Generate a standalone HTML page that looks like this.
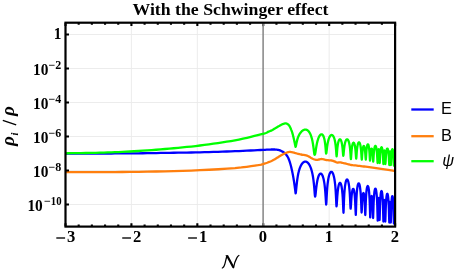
<!DOCTYPE html>
<html><head><meta charset="utf-8"><title>With the Schwinger effect</title>
<style>html,body{margin:0;padding:0;background:#fff;overflow:hidden;}svg{display:block;will-change:transform;}text{font-family:"Liberation Serif",serif;font-weight:bold;fill:#000;}</style></head><body>
<svg width="460" height="273" viewBox="0 0 460 273">
<path d="M131.42 22.7 V226.6 M197.34 22.7 V226.6 M329.18 22.7 V226.6 M65.5 34.50 H395.1 M65.5 68.50 H395.1 M65.5 102.50 H395.1 M65.5 136.50 H395.1 M65.5 170.50 H395.1 M65.5 204.50 H395.1" stroke="#eaeaea" stroke-width="0.9" fill="none"/>
<path d="M263.11 22.7 V226.6" stroke="#8c8c8c" stroke-width="1.6" fill="none"/>
<clipPath id="cp"><rect x="65.5" y="22.7" width="329.6" height="203.9"/></clipPath><g clip-path="url(#cp)">
<path d="M65.50 153.60 L68.19 153.59 L71.80 153.58 L76.11 153.57 L80.88 153.56 L85.88 153.54 L90.88 153.53 L95.67 153.51 L100.00 153.50 L103.93 153.49 L107.70 153.48 L111.36 153.48 L114.97 153.47 L118.58 153.47 L122.25 153.45 L126.04 153.43 L130.00 153.40 L134.14 153.36 L138.40 153.31 L142.76 153.25 L147.19 153.18 L151.66 153.11 L156.13 153.04 L160.59 152.97 L165.00 152.90 L169.38 152.83 L173.75 152.77 L178.12 152.70 L182.50 152.64 L186.88 152.57 L191.25 152.49 L195.62 152.40 L200.00 152.30 L204.42 152.19 L208.91 152.06 L213.43 151.93 L217.94 151.79 L222.39 151.65 L226.74 151.50 L230.96 151.35 L235.00 151.20 L238.96 151.04 L242.94 150.87 L246.85 150.69 L250.62 150.51 L254.20 150.33 L257.50 150.17 L260.46 150.02 L263.00 149.90 L265.06 149.80 L266.68 149.72 L267.94 149.66 L268.94 149.61 L269.75 149.57 L270.48 149.54 L271.20 149.52 L272.00 149.50 L272.83 149.49 L273.57 149.49 L274.23 149.50 L274.84 149.52 L275.41 149.55 L275.95 149.59 L276.47 149.64 L277.00 149.70 L277.51 149.77 L277.99 149.86 L278.44 149.95 L278.88 150.06 L279.29 150.17 L279.70 150.30 L280.10 150.44 L280.50 150.60 L280.90 150.77 L281.30 150.96 L281.68 151.16 L282.06 151.37 L282.43 151.59 L282.80 151.82 L283.15 152.06 L283.50 152.30 L283.84 152.54 L284.16 152.77 L284.47 153.01 L284.78 153.26 L285.08 153.52 L285.39 153.81 L285.69 154.14 L286.00 154.50 L286.31 154.89 L286.63 155.30 L286.95 155.74 L287.26 156.20 L287.58 156.70 L287.89 157.25 L288.20 157.84 L288.50 158.50 L288.80 159.22 L289.10 159.99 L289.39 160.82 L289.68 161.69 L289.97 162.60 L290.25 163.54 L290.53 164.51 L290.80 165.50 L291.07 166.53 L291.33 167.61 L291.59 168.73 L291.85 169.88 L292.10 171.04 L292.34 172.20 L292.58 173.36 L292.80 174.50 L293.01 175.62 L293.21 176.73 L293.41 177.84 L293.59 178.95 L293.77 180.07 L293.95 181.19 L294.13 182.34 L294.30 183.50 L294.48 184.75 L294.67 186.12 L294.86 187.55 L295.04 188.96 L295.22 190.31 L295.37 191.52 L295.50 192.54 L295.60 193.30 L295.80 192.74 L296.00 191.22 L296.20 189.24 L296.40 187.15 L296.61 185.14 L296.81 183.28 L297.01 181.57 L297.21 180.02 L297.41 178.60 L297.61 177.31 L297.81 176.12 L298.01 175.03 L298.21 174.02 L298.41 173.09 L298.62 172.23 L298.82 171.42 L299.02 170.67 L299.22 169.97 L299.42 169.32 L299.62 168.70 L299.82 168.13 L300.02 167.59 L300.22 167.08 L300.42 166.60 L300.63 166.16 L300.83 165.74 L301.03 165.34 L301.23 164.97 L301.43 164.63 L301.63 164.31 L301.83 164.01 L302.03 163.72 L302.23 163.46 L302.44 163.22 L302.64 163.00 L302.84 162.79 L303.04 162.61 L303.24 162.44 L303.44 162.28 L303.64 162.14 L303.84 162.02 L304.04 161.92 L304.24 161.83 L304.45 161.75 L304.65 161.69 L304.85 161.65 L305.05 161.62 L305.25 161.60 L305.45 161.60 L305.65 161.62 L305.85 161.65 L306.05 161.69 L306.25 161.75 L306.46 161.83 L306.66 161.92 L306.86 162.02 L307.06 162.14 L307.26 162.28 L307.46 162.44 L307.66 162.61 L307.86 162.80 L308.06 163.00 L308.26 163.22 L308.47 163.47 L308.67 163.73 L308.87 164.01 L309.07 164.31 L309.27 164.64 L309.47 164.98 L309.67 165.35 L309.87 165.75 L310.07 166.17 L310.28 166.62 L310.48 167.10 L310.68 167.61 L310.88 168.15 L311.08 168.73 L311.28 169.35 L311.48 170.02 L311.68 170.72 L311.88 171.49 L312.08 172.30 L312.29 173.18 L312.49 174.13 L312.69 175.17 L312.89 176.29 L313.09 177.51 L313.29 178.86 L313.49 180.35 L313.69 182.00 L313.89 183.85 L314.09 185.92 L314.30 188.24 L314.50 190.78 L314.70 193.41 L314.90 195.64 L315.10 196.60 L315.30 196.20 L315.50 194.88 L315.71 193.07 L315.91 191.12 L316.11 189.22 L316.31 187.45 L316.51 185.83 L316.71 184.37 L316.92 183.05 L317.12 181.86 L317.32 180.78 L317.52 179.82 L317.72 178.94 L317.93 178.16 L318.13 177.45 L318.33 176.82 L318.53 176.25 L318.73 175.75 L318.93 175.30 L319.14 174.92 L319.34 174.58 L319.54 174.30 L319.74 174.07 L319.94 173.88 L320.15 173.74 L320.35 173.65 L320.55 173.61 L320.75 173.61 L320.95 173.65 L321.15 173.74 L321.36 173.88 L321.56 174.07 L321.76 174.30 L321.96 174.59 L322.16 174.93 L322.37 175.32 L322.57 175.77 L322.77 176.28 L322.97 176.86 L323.17 177.51 L323.37 178.24 L323.58 179.06 L323.78 179.97 L323.98 180.99 L324.18 182.13 L324.38 183.42 L324.59 184.87 L324.79 186.52 L324.99 188.42 L325.19 190.61 L325.39 193.17 L325.59 196.16 L325.80 199.54 L326.00 202.84 L326.20 204.50 L326.40 202.32 L326.60 198.15 L326.81 194.23 L327.01 190.94 L327.21 188.21 L327.41 185.92 L327.61 183.96 L327.82 182.28 L328.02 180.81 L328.22 179.52 L328.42 178.38 L328.62 177.37 L328.83 176.48 L329.03 175.69 L329.23 174.99 L329.43 174.38 L329.63 173.84 L329.84 173.37 L330.04 172.97 L330.24 172.63 L330.44 172.35 L330.64 172.13 L330.85 171.97 L331.05 171.86 L331.25 171.81 L331.45 171.81 L331.65 171.86 L331.85 171.97 L332.06 172.13 L332.26 172.35 L332.46 172.63 L332.66 172.97 L332.86 173.37 L333.07 173.84 L333.27 174.38 L333.47 175.00 L333.67 175.70 L333.87 176.49 L334.08 177.38 L334.28 178.40 L334.48 179.54 L334.68 180.84 L334.88 182.32 L335.09 184.02 L335.29 186.00 L335.49 188.34 L335.69 191.14 L335.89 194.57 L336.10 198.80 L336.30 203.61 L336.50 206.40 L336.70 205.19 L336.90 202.27 L337.10 199.10 L337.30 196.25 L337.50 193.82 L337.70 191.75 L337.90 190.00 L338.10 188.52 L338.30 187.26 L338.50 186.20 L338.70 185.30 L338.90 184.56 L339.10 183.97 L339.30 183.50 L339.50 183.15 L339.70 182.93 L339.90 182.81 L340.10 182.81 L340.30 182.93 L340.50 183.16 L340.70 183.50 L340.90 183.97 L341.10 184.58 L341.30 185.33 L341.50 186.24 L341.70 187.33 L341.90 188.62 L342.10 190.17 L342.30 192.02 L342.50 194.25 L342.70 196.97 L342.90 200.37 L343.10 204.65 L343.30 209.67 L343.50 212.80 L343.70 208.40 L343.91 202.30 L344.11 197.58 L344.31 193.98 L344.51 191.15 L344.72 188.85 L344.92 186.97 L345.12 185.39 L345.33 184.08 L345.53 182.97 L345.73 182.05 L345.93 181.30 L346.14 180.69 L346.34 180.21 L346.54 179.86 L346.75 179.63 L346.95 179.51 L347.15 179.51 L347.35 179.63 L347.56 179.86 L347.76 180.21 L347.96 180.68 L348.17 181.29 L348.37 182.05 L348.57 182.96 L348.77 184.05 L348.98 185.36 L349.18 186.91 L349.38 188.76 L349.59 190.99 L349.79 193.72 L349.99 197.09 L350.19 201.28 L350.40 206.04 L350.60 208.70 L350.81 207.37 L351.02 204.21 L351.22 200.92 L351.43 198.08 L351.64 195.73 L351.85 193.83 L352.06 192.30 L352.26 191.09 L352.47 190.16 L352.68 189.49 L352.89 189.04 L353.10 188.83 L353.30 188.83 L353.51 189.05 L353.72 189.49 L353.93 190.18 L354.14 191.12 L354.34 192.37 L354.55 193.97 L354.76 196.00 L354.97 198.58 L355.18 201.90 L355.38 206.19 L355.59 211.44 L355.80 214.90 L356.00 210.07 L356.20 203.69 L356.40 198.90 L356.60 195.32 L356.80 192.54 L357.00 190.33 L357.20 188.56 L357.40 187.12 L357.60 185.96 L357.80 185.05 L358.00 184.34 L358.20 183.82 L358.40 183.49 L358.60 183.32 L358.80 183.32 L359.00 183.49 L359.20 183.82 L359.40 184.34 L359.60 185.04 L359.80 185.96 L360.00 187.11 L360.20 188.54 L360.40 190.30 L360.60 192.48 L360.80 195.21 L361.00 198.69 L361.20 203.21 L361.40 208.84 L361.60 212.50 L361.81 210.04 L362.01 205.57 L362.22 201.71 L362.42 198.74 L362.63 196.52 L362.83 194.92 L363.04 193.84 L363.24 193.21 L363.45 193.00 L363.66 193.21 L363.86 193.84 L364.07 194.94 L364.27 196.56 L364.48 198.84 L364.68 201.94 L364.89 206.15 L365.09 211.46 L365.30 215.00 L365.50 210.23 L365.71 203.84 L365.91 199.09 L366.12 195.58 L366.32 192.91 L366.52 190.85 L366.73 189.25 L366.93 188.02 L367.14 187.12 L367.34 186.49 L367.55 186.12 L367.75 186.00 L367.95 186.12 L368.16 186.49 L368.36 187.12 L368.57 188.03 L368.77 189.26 L368.98 190.87 L369.18 192.95 L369.38 195.65 L369.59 199.23 L369.79 204.18 L370.00 211.24 L370.20 217.40 L370.41 212.70 L370.61 206.57 L370.82 202.23 L371.03 199.30 L371.24 197.41 L371.44 196.35 L371.65 196.00 L371.86 196.35 L372.06 197.41 L372.27 199.31 L372.48 202.25 L372.69 206.64 L372.89 212.95 L373.10 218.00 L373.31 212.38 L373.52 205.53 L373.73 200.66 L373.94 197.15 L374.15 194.52 L374.35 192.53 L374.56 191.03 L374.77 189.94 L374.98 189.18 L375.19 188.74 L375.40 188.60 L375.61 188.74 L375.82 189.18 L376.03 189.94 L376.24 191.04 L376.45 192.54 L376.65 194.55 L376.86 197.20 L377.07 200.78 L377.28 205.82 L377.49 213.32 L377.70 220.60 L377.84 215.22 L377.97 208.74 L378.11 204.29 L378.24 201.33 L378.38 199.42 L378.51 198.35 L378.65 198.00 L378.79 198.35 L378.92 199.42 L379.06 201.32 L379.19 204.27 L379.33 208.67 L379.46 214.99 L379.60 220.00 L379.81 212.92 L380.02 205.50 L380.23 200.58 L380.44 197.16 L380.66 194.73 L380.87 193.02 L381.08 191.88 L381.29 191.22 L381.50 191.00 L381.71 191.22 L381.92 191.88 L382.13 193.02 L382.34 194.74 L382.56 197.18 L382.77 200.62 L382.98 205.62 L383.19 213.37 L383.40 221.50 L383.54 216.73 L383.67 210.57 L383.81 206.23 L383.94 203.30 L384.08 201.41 L384.21 200.35 L384.35 200.00 L384.49 200.35 L384.62 201.41 L384.76 203.30 L384.89 206.23 L385.03 210.57 L385.16 216.73 L385.30 221.50 L385.50 216.05 L385.70 209.34 L385.90 204.57 L386.10 201.14 L386.30 198.62 L386.50 196.76 L386.70 195.42 L386.90 194.50 L387.10 193.97 L387.30 193.80 L387.50 193.97 L387.70 194.50 L387.90 195.42 L388.10 196.76 L388.30 198.63 L388.50 201.16 L388.70 204.62 L388.90 209.47 L389.10 216.45 L389.30 222.50 L389.41 218.22 L389.51 212.38 L389.62 208.15 L389.73 205.27 L389.84 203.40 L389.94 202.34 L390.05 202.00 L390.16 202.34 L390.26 203.40 L390.37 205.27 L390.48 208.15 L390.59 212.38 L390.69 218.22 L390.80 222.50 L391.01 215.39 L391.21 208.06 L391.42 203.29 L391.63 200.12 L391.83 198.00 L392.04 196.70 L392.25 196.08 L392.45 196.08 L392.66 196.70 L392.87 198.01 L393.07 200.12 L393.28 203.32 L393.49 208.13 L393.69 215.69 L393.90 223.50 L393.99 221.39 L394.09 217.37 L394.18 213.67 L394.27 210.68 L394.36 208.33 L394.46 206.52 L394.55 205.14 L394.64 204.13 L394.74 203.46 L394.83 203.09 L394.92 203.01 L395.01 203.22 L395.11 203.73 L395.20 204.56" fill="none" stroke="#0000ff" stroke-width="2.3" stroke-linejoin="round" stroke-linecap="butt"/>
<path d="M65.50 172.20 L71.80 172.18 L80.88 172.16 L90.88 172.13 L100.00 172.10 L107.70 172.07 L114.97 172.03 L122.25 171.98 L130.00 171.90 L138.40 171.79 L147.19 171.66 L156.13 171.49 L165.00 171.30 L173.75 171.08 L182.50 170.84 L191.25 170.56 L200.00 170.20 L209.10 169.75 L218.44 169.24 L227.30 168.68 L235.00 168.10 L241.34 167.48 L246.69 166.81 L251.20 166.16 L255.00 165.60 L257.84 165.19 L259.75 164.87 L261.28 164.55 L263.00 164.10 L265.07 163.47 L267.19 162.72 L269.21 161.94 L271.00 161.20 L272.48 160.51 L273.75 159.82 L274.89 159.16 L276.00 158.50 L277.09 157.84 L278.12 157.19 L279.09 156.56 L280.00 156.00 L280.84 155.50 L281.61 155.06 L282.33 154.66 L283.00 154.30 L283.60 153.98 L284.14 153.70 L284.66 153.45 L285.20 153.20 L285.77 152.95 L286.34 152.71 L286.92 152.49 L287.50 152.30 L288.07 152.15 L288.62 152.02 L289.20 151.93 L289.80 151.90 L290.44 151.93 L291.10 152.02 L291.79 152.15 L292.50 152.30 L293.20 152.48 L293.89 152.69 L294.66 152.94 L295.60 153.20 L296.77 153.51 L298.12 153.85 L299.53 154.19 L300.90 154.50 L302.26 154.75 L303.65 154.96 L304.96 155.16 L306.10 155.40 L307.00 155.67 L307.73 155.97 L308.37 156.28 L309.00 156.60 L309.61 156.94 L310.16 157.29 L310.71 157.65 L311.30 158.00 L311.95 158.35 L312.64 158.70 L313.33 159.03 L314.00 159.30 L314.64 159.52 L315.26 159.71 L315.88 159.84 L316.50 159.90 L317.12 159.87 L317.74 159.77 L318.36 159.63 L319.00 159.50 L319.67 159.36 L320.36 159.20 L321.05 159.06 L321.70 159.00 L322.32 159.03 L322.92 159.14 L323.48 159.27 L324.00 159.40 L324.41 159.52 L324.73 159.65 L325.09 159.78 L325.60 159.90 L326.33 160.01 L327.20 160.11 L328.12 160.21 L329.00 160.30 L329.82 160.37 L330.64 160.41 L331.43 160.48 L332.20 160.60 L332.94 160.80 L333.65 161.06 L334.34 161.33 L335.00 161.60 L335.62 161.88 L336.21 162.18 L336.80 162.44 L337.40 162.60 L338.03 162.59 L338.66 162.47 L339.32 162.34 L340.00 162.30 L340.72 162.40 L341.48 162.59 L342.24 162.80 L343.00 163.00 L343.69 163.16 L344.35 163.31 L345.08 163.48 L346.00 163.70 L347.18 164.00 L348.54 164.36 L349.99 164.71 L351.40 165.00 L352.77 165.20 L354.14 165.34 L355.52 165.46 L356.90 165.60 L358.24 165.77 L359.57 165.94 L360.93 166.12 L362.40 166.30 L364.01 166.49 L365.71 166.68 L367.46 166.88 L369.20 167.10 L370.92 167.33 L372.65 167.58 L374.38 167.84 L376.10 168.10 L377.80 168.37 L379.50 168.66 L381.20 168.94 L382.90 169.20 L384.66 169.44 L386.45 169.66 L388.19 169.88 L389.80 170.10 L391.34 170.35 L392.83 170.61 L394.11 170.84 L395.00 171.00" fill="none" stroke="#ff7f0e" stroke-width="2.3" stroke-linejoin="round" stroke-linecap="butt"/>
<path d="M65.50 153.30 L68.19 153.26 L71.80 153.21 L76.11 153.15 L80.88 153.07 L85.88 153.00 L90.88 152.91 L95.67 152.81 L100.00 152.70 L103.93 152.59 L107.70 152.47 L111.36 152.35 L114.97 152.22 L118.58 152.07 L122.25 151.91 L126.04 151.72 L130.00 151.50 L134.14 151.26 L138.40 150.99 L142.76 150.70 L147.19 150.39 L151.66 150.07 L156.13 149.73 L160.59 149.37 L165.00 149.00 L169.38 148.62 L173.75 148.24 L178.12 147.84 L182.50 147.42 L186.88 146.98 L191.25 146.52 L195.62 146.03 L200.00 145.50 L204.42 144.94 L208.91 144.35 L213.43 143.73 L217.94 143.09 L222.39 142.42 L226.74 141.73 L230.96 141.02 L235.00 140.30 L238.99 139.52 L243.03 138.66 L247.02 137.76 L250.88 136.84 L254.49 135.96 L257.78 135.13 L260.65 134.40 L263.00 133.80 L264.73 133.34 L265.89 133.00 L266.60 132.74 L267.00 132.55 L267.21 132.40 L267.36 132.25 L267.58 132.10 L268.00 131.90 L268.55 131.68 L269.09 131.46 L269.62 131.25 L270.12 131.04 L270.62 130.84 L271.09 130.63 L271.55 130.42 L272.00 130.20 L272.43 129.98 L272.84 129.74 L273.24 129.51 L273.62 129.27 L273.98 129.04 L274.34 128.81 L274.67 128.60 L275.00 128.40 L275.30 128.22 L275.57 128.07 L275.82 127.93 L276.06 127.79 L276.29 127.66 L276.54 127.52 L276.81 127.37 L277.10 127.20 L277.43 127.01 L277.78 126.80 L278.16 126.58 L278.54 126.35 L278.92 126.12 L279.30 125.90 L279.66 125.69 L280.00 125.50 L280.32 125.32 L280.62 125.15 L280.92 124.99 L281.21 124.84 L281.49 124.69 L281.76 124.55 L282.03 124.42 L282.30 124.30 L282.57 124.19 L282.83 124.08 L283.09 123.98 L283.35 123.89 L283.60 123.80 L283.84 123.73 L284.08 123.66 L284.30 123.60 L284.51 123.55 L284.71 123.50 L284.90 123.46 L285.08 123.42 L285.26 123.40 L285.44 123.39 L285.62 123.39 L285.80 123.40 L285.99 123.42 L286.18 123.46 L286.37 123.51 L286.56 123.57 L286.74 123.64 L286.93 123.72 L287.12 123.80 L287.30 123.90 L287.48 124.00 L287.66 124.11 L287.84 124.23 L288.01 124.36 L288.19 124.50 L288.36 124.65 L288.53 124.82 L288.70 125.00 L288.87 125.20 L289.03 125.42 L289.20 125.65 L289.36 125.90 L289.52 126.16 L289.68 126.43 L289.84 126.71 L290.00 127.00 L290.16 127.30 L290.31 127.62 L290.46 127.94 L290.61 128.28 L290.76 128.63 L290.91 128.98 L291.06 129.34 L291.20 129.70 L291.34 130.07 L291.49 130.44 L291.63 130.82 L291.77 131.21 L291.91 131.60 L292.04 131.99 L292.17 132.40 L292.30 132.80 L292.42 133.20 L292.53 133.60 L292.64 133.99 L292.75 134.39 L292.86 134.81 L292.97 135.24 L293.08 135.71 L293.20 136.20 L293.33 136.73 L293.46 137.28 L293.59 137.85 L293.73 138.45 L293.87 139.07 L294.01 139.70 L294.16 140.34 L294.30 141.00 L294.45 141.72 L294.62 142.52 L294.80 143.36 L294.97 144.20 L295.13 145.01 L295.28 145.73 L295.41 146.35 L295.50 146.80 L295.70 146.64 L295.90 145.99 L296.10 145.05 L296.30 144.02 L296.51 143.01 L296.71 142.05 L296.91 141.17 L297.11 140.36 L297.31 139.62 L297.51 138.93 L297.71 138.30 L297.91 137.71 L298.11 137.16 L298.31 136.65 L298.52 136.18 L298.72 135.73 L298.92 135.31 L299.12 134.91 L299.32 134.53 L299.52 134.18 L299.72 133.84 L299.92 133.52 L300.12 133.22 L300.33 132.94 L300.53 132.66 L300.73 132.41 L300.93 132.16 L301.13 131.93 L301.33 131.71 L301.53 131.50 L301.73 131.31 L301.93 131.13 L302.13 130.95 L302.34 130.79 L302.54 130.64 L302.74 130.50 L302.94 130.37 L303.14 130.25 L303.34 130.14 L303.54 130.04 L303.74 129.95 L303.94 129.87 L304.15 129.80 L304.35 129.74 L304.55 129.69 L304.75 129.65 L304.95 129.62 L305.15 129.61 L305.35 129.60 L305.55 129.61 L305.75 129.62 L305.95 129.65 L306.16 129.69 L306.36 129.74 L306.56 129.81 L306.76 129.89 L306.96 129.98 L307.16 130.08 L307.36 130.20 L307.56 130.34 L307.76 130.49 L307.97 130.65 L308.17 130.83 L308.37 131.03 L308.57 131.25 L308.77 131.48 L308.97 131.74 L309.17 132.02 L309.37 132.32 L309.57 132.64 L309.77 132.99 L309.98 133.36 L310.18 133.76 L310.38 134.19 L310.58 134.66 L310.78 135.16 L310.98 135.70 L311.18 136.27 L311.38 136.90 L311.58 137.57 L311.79 138.30 L311.99 139.08 L312.19 139.93 L312.39 140.86 L312.59 141.87 L312.79 142.96 L312.99 144.16 L313.19 145.47 L313.39 146.90 L313.59 148.43 L313.80 150.06 L314.00 151.70 L314.20 153.21 L314.40 154.34 L314.60 154.80 L314.80 154.71 L315.00 154.34 L315.21 153.58 L315.41 152.50 L315.61 151.23 L315.81 149.89 L316.01 148.57 L316.21 147.31 L316.42 146.13 L316.62 145.03 L316.82 144.01 L317.02 143.06 L317.22 142.19 L317.42 141.38 L317.63 140.64 L317.83 139.95 L318.03 139.31 L318.23 138.71 L318.43 138.17 L318.64 137.66 L318.84 137.20 L319.04 136.77 L319.24 136.38 L319.44 136.03 L319.64 135.71 L319.85 135.42 L320.05 135.17 L320.25 134.94 L320.45 134.76 L320.65 134.60 L320.85 134.47 L321.06 134.38 L321.26 134.32 L321.46 134.30 L321.66 134.31 L321.86 134.36 L322.06 134.44 L322.27 134.57 L322.47 134.73 L322.67 134.94 L322.87 135.20 L323.07 135.50 L323.28 135.86 L323.48 136.29 L323.68 136.78 L323.88 137.34 L324.08 137.99 L324.28 138.75 L324.49 139.62 L324.69 140.63 L324.89 141.82 L325.09 143.24 L325.29 144.93 L325.49 147.00 L325.70 149.49 L325.90 152.17 L326.10 153.60 L326.30 153.21 L326.50 151.95 L326.71 150.27 L326.91 148.55 L327.11 146.95 L327.31 145.52 L327.51 144.24 L327.72 143.11 L327.92 142.11 L328.12 141.20 L328.32 140.40 L328.52 139.67 L328.73 139.02 L328.93 138.43 L329.13 137.91 L329.33 137.43 L329.53 137.01 L329.73 136.63 L329.94 136.30 L330.14 136.01 L330.34 135.75 L330.54 135.54 L330.74 135.36 L330.95 135.22 L331.15 135.11 L331.35 135.04 L331.55 135.01 L331.75 135.00 L331.96 135.04 L332.16 135.11 L332.36 135.21 L332.56 135.35 L332.76 135.54 L332.97 135.76 L333.17 136.03 L333.37 136.34 L333.57 136.71 L333.77 137.13 L333.98 137.61 L334.18 138.15 L334.38 138.77 L334.58 139.48 L334.78 140.28 L334.98 141.20 L335.19 142.27 L335.39 143.52 L335.59 144.99 L335.79 146.76 L335.99 148.93 L336.20 151.60 L336.40 154.63 L336.60 156.40 L336.80 154.95 L337.01 152.26 L337.21 149.77 L337.41 147.72 L337.62 146.04 L337.82 144.67 L338.02 143.53 L338.22 142.57 L338.43 141.78 L338.63 141.12 L338.83 140.58 L339.04 140.14 L339.24 139.80 L339.44 139.55 L339.65 139.39 L339.85 139.31 L340.05 139.31 L340.25 139.39 L340.46 139.55 L340.66 139.80 L340.86 140.14 L341.07 140.58 L341.27 141.12 L341.47 141.77 L341.68 142.57 L341.88 143.51 L342.08 144.65 L342.28 146.01 L342.49 147.65 L342.69 149.66 L342.89 152.04 L343.10 154.53 L343.30 155.80 L343.51 154.82 L343.71 152.66 L343.92 150.45 L344.12 148.52 L344.33 146.90 L344.53 145.53 L344.74 144.38 L344.94 143.40 L345.15 142.56 L345.35 141.85 L345.56 141.24 L345.76 140.73 L345.97 140.31 L346.18 139.97 L346.38 139.70 L346.59 139.50 L346.79 139.37 L347.00 139.31 L347.20 139.31 L347.41 139.37 L347.61 139.50 L347.82 139.70 L348.02 139.97 L348.23 140.32 L348.44 140.74 L348.64 141.26 L348.85 141.87 L349.05 142.59 L349.26 143.45 L349.46 144.46 L349.67 145.66 L349.87 147.11 L350.08 148.88 L350.28 151.07 L350.49 153.85 L350.69 157.14 L350.90 159.20 L351.10 157.27 L351.31 154.09 L351.51 151.39 L351.72 149.28 L351.92 147.62 L352.12 146.30 L352.33 145.25 L352.53 144.42 L352.73 143.78 L352.94 143.30 L353.14 142.96 L353.35 142.77 L353.55 142.70 L353.75 142.77 L353.96 142.96 L354.16 143.30 L354.37 143.78 L354.57 144.42 L354.77 145.25 L354.98 146.29 L355.18 147.60 L355.38 149.24 L355.59 151.33 L355.79 153.95 L356.00 156.97 L356.20 158.70 L356.40 157.06 L356.60 154.12 L356.80 151.53 L357.00 149.44 L357.20 147.78 L357.40 146.44 L357.60 145.35 L357.80 144.48 L358.00 143.78 L358.20 143.23 L358.40 142.81 L358.60 142.53 L358.80 142.36 L359.00 142.30 L359.20 142.36 L359.40 142.53 L359.60 142.82 L359.80 143.23 L360.00 143.78 L360.20 144.48 L360.40 145.37 L360.60 146.46 L360.80 147.82 L361.00 149.51 L361.20 151.66 L361.40 154.40 L361.60 157.68 L361.80 159.70 L362.00 157.92 L362.20 154.90 L362.40 152.34 L362.60 150.36 L362.80 148.85 L363.00 147.72 L363.20 146.90 L363.40 146.34 L363.60 146.01 L363.80 145.90 L364.00 146.01 L364.20 146.34 L364.40 146.90 L364.60 147.72 L364.80 148.85 L365.00 150.36 L365.20 152.34 L365.40 154.90 L365.60 157.92 L365.80 159.70 L366.01 157.35 L366.22 153.78 L366.43 150.97 L366.64 148.89 L366.85 147.33 L367.06 146.16 L367.27 145.32 L367.48 144.74 L367.69 144.41 L367.90 144.30 L368.11 144.41 L368.32 144.74 L368.53 145.32 L368.74 146.17 L368.95 147.34 L369.16 148.92 L369.37 151.05 L369.58 153.96 L369.79 157.84 L370.00 160.70 L370.21 158.65 L370.43 155.39 L370.64 152.82 L370.85 150.98 L371.07 149.72 L371.28 148.93 L371.49 148.55 L371.71 148.55 L371.92 148.93 L372.13 149.73 L372.35 151.00 L372.56 152.88 L372.77 155.57 L372.99 159.15 L373.20 161.70 L373.40 159.53 L373.60 156.10 L373.80 153.32 L374.00 151.21 L374.20 149.60 L374.40 148.36 L374.60 147.43 L374.80 146.74 L375.00 146.27 L375.20 145.99 L375.40 145.90 L375.60 145.99 L375.80 146.27 L376.00 146.74 L376.20 147.43 L376.40 148.38 L376.60 149.62 L376.80 151.26 L377.00 153.43 L377.20 156.35 L377.40 160.21 L377.60 163.00 L377.75 159.87 L377.90 155.88 L378.05 153.09 L378.20 151.22 L378.35 150.00 L378.50 149.32 L378.65 149.10 L378.80 149.32 L378.95 150.00 L379.10 151.22 L379.25 153.09 L379.40 155.88 L379.55 159.87 L379.70 163.00 L379.91 160.04 L380.11 156.06 L380.32 153.14 L380.52 151.05 L380.73 149.54 L380.93 148.47 L381.14 147.75 L381.34 147.34 L381.55 147.20 L381.76 147.34 L381.96 147.75 L382.17 148.48 L382.37 149.55 L382.58 151.08 L382.78 153.20 L382.99 156.20 L383.19 160.46 L383.40 164.00 L383.54 161.07 L383.69 157.21 L383.83 154.46 L383.97 152.60 L384.11 151.40 L384.26 150.72 L384.40 150.50 L384.54 150.72 L384.69 151.40 L384.83 152.60 L384.97 154.46 L385.11 157.21 L385.26 161.07 L385.40 164.00 L385.61 161.41 L385.81 157.67 L386.02 154.81 L386.22 152.72 L386.43 151.19 L386.63 150.07 L386.84 149.28 L387.04 148.78 L387.25 148.53 L387.45 148.53 L387.66 148.78 L387.86 149.28 L388.07 150.07 L388.27 151.20 L388.48 152.75 L388.68 154.88 L388.89 157.83 L389.09 161.87 L389.30 165.00 L389.41 162.07 L389.53 158.21 L389.64 155.46 L389.76 153.60 L389.87 152.40 L389.99 151.72 L390.10 151.50 L390.21 151.72 L390.33 152.40 L390.44 153.60 L390.56 155.46 L390.67 158.21 L390.79 162.07 L390.90 165.00 L391.10 161.10 L391.30 156.68 L391.50 153.71 L391.70 151.71 L391.90 150.37 L392.10 149.55 L392.30 149.15 L392.50 149.15 L392.70 149.55 L392.90 150.37 L393.10 151.71 L393.30 153.73 L393.50 156.74 L393.70 161.31 L393.90 165.60 L393.99 164.12 L394.09 161.38 L394.18 158.92 L394.27 156.97 L394.36 155.45 L394.46 154.27 L394.55 153.38 L394.64 152.73 L394.74 152.29 L394.83 152.06 L394.92 152.00 L395.01 152.14 L395.11 152.47 L395.20 153.00" fill="none" stroke="#00ff00" stroke-width="2.3" stroke-linejoin="round" stroke-linecap="butt"/>
</g>
<rect x="65.5" y="22.7" width="329.6" height="203.9" fill="none" stroke="#000" stroke-width="2.2"/>
<path d="M65.50 226.6 v-3.4 M65.50 22.7 v3.4 M78.68 226.6 v-2.1 M78.68 22.7 v2.1 M91.87 226.6 v-2.1 M91.87 22.7 v2.1 M105.05 226.6 v-2.1 M105.05 22.7 v2.1 M118.24 226.6 v-2.1 M118.24 22.7 v2.1 M131.42 226.6 v-3.4 M131.42 22.7 v3.4 M144.60 226.6 v-2.1 M144.60 22.7 v2.1 M157.79 226.6 v-2.1 M157.79 22.7 v2.1 M170.97 226.6 v-2.1 M170.97 22.7 v2.1 M184.16 226.6 v-2.1 M184.16 22.7 v2.1 M197.34 226.6 v-3.4 M197.34 22.7 v3.4 M210.52 226.6 v-2.1 M210.52 22.7 v2.1 M223.71 226.6 v-2.1 M223.71 22.7 v2.1 M236.89 226.6 v-2.1 M236.89 22.7 v2.1 M250.08 226.6 v-2.1 M250.08 22.7 v2.1 M263.26 226.6 v-3.4 M263.26 22.7 v3.4 M276.44 226.6 v-2.1 M276.44 22.7 v2.1 M289.63 226.6 v-2.1 M289.63 22.7 v2.1 M302.81 226.6 v-2.1 M302.81 22.7 v2.1 M316.00 226.6 v-2.1 M316.00 22.7 v2.1 M329.18 226.6 v-3.4 M329.18 22.7 v3.4 M342.36 226.6 v-2.1 M342.36 22.7 v2.1 M355.55 226.6 v-2.1 M355.55 22.7 v2.1 M368.73 226.6 v-2.1 M368.73 22.7 v2.1 M381.92 226.6 v-2.1 M381.92 22.7 v2.1 M395.10 226.6 v-3.4 M395.10 22.7 v3.4 M65.5 34.50 h3.5 M65.5 68.50 h3.5 M65.5 102.50 h3.5 M65.5 136.50 h3.5 M65.5 170.50 h3.5 M65.5 204.50 h3.5" stroke="#000" stroke-width="2.1" fill="none"/>
<path d="M263.11 23.8 v2.6 M263.11 225.5 v-2.6" stroke="#8c8c8c" stroke-width="1.6" fill="none"/>
<g opacity="0.999">
<path d="M56.30 238.0 h8.8" stroke="#000" stroke-width="1.35" fill="none"/>
<text x="67.10" y="242.2" font-size="16.6">3</text>
<path d="M122.22 238.0 h8.8" stroke="#000" stroke-width="1.35" fill="none"/>
<text x="133.02" y="242.2" font-size="16.6">2</text>
<path d="M188.14 238.0 h8.8" stroke="#000" stroke-width="1.35" fill="none"/>
<text x="198.94" y="242.2" font-size="16.6">1</text>
<text x="262.96" y="242.2" font-size="16.6" text-anchor="middle">0</text>
<text x="328.88" y="242.2" font-size="16.6" text-anchor="middle">1</text>
<text x="394.80" y="242.2" font-size="16.6" text-anchor="middle">2</text>
<text transform="translate(61.5,38.50) scale(0.87,1)" font-size="17.7" text-anchor="end">1</text>
<text x="48.46" y="68.50" font-size="12">−2</text>
<text transform="translate(48.40,74.50) scale(0.87,1)" font-size="17.7" text-anchor="end">10</text>
<text x="48.46" y="102.50" font-size="12">−4</text>
<text transform="translate(48.40,108.50) scale(0.87,1)" font-size="17.7" text-anchor="end">10</text>
<text x="48.46" y="136.50" font-size="12">−6</text>
<text transform="translate(48.40,142.50) scale(0.87,1)" font-size="17.7" text-anchor="end">10</text>
<text x="48.46" y="170.50" font-size="12">−8</text>
<text transform="translate(48.40,176.50) scale(0.87,1)" font-size="17.7" text-anchor="end">10</text>
<text x="44.00" y="204.50" font-size="12">−</text>
<text transform="translate(61.6,204.50) scale(0.9,1)" font-size="12" text-anchor="end">10</text>
<text transform="translate(42.80,210.50) scale(0.87,1)" font-size="17.7" text-anchor="end">10</text>
<text x="230.5" y="15.3" font-size="17.75" text-anchor="middle">With the Schwinger effect</text>
<text transform="translate(13.6,126.2) rotate(-90)" font-size="19" font-style="italic" text-anchor="middle">ρ<tspan dx="0.9" dy="4.2" font-size="10.5">i</tspan><tspan dy="-4.2" dx="0.6" fill="none"> / </tspan><tspan dx="1.0">ρ</tspan></text>
<path d="M2.8 120.4 L16.2 124.9" stroke="#000" stroke-width="1.5" fill="none"/>
<g transform="translate(0.2,0.7)" fill="none" stroke="#000" stroke-linecap="round" stroke-linejoin="round"><path d="M222.1 267.3 C223.3 267.0 224.1 265.4 224.7 263.2 C225.4 260.5 225.9 258.0 226.7 255.3" stroke-width="1.25"/><path d="M227.2 255.6 L233.0 266.4" stroke-width="2.2"/><path d="M233.3 266.9 C234.0 263.5 235.2 259.8 236.6 257.2 C237.2 256.0 237.9 255.2 238.7 254.8" stroke-width="1.25"/><path d="M225.8 255.0 H227.6" stroke-width="0.8"/></g>
<path d="M411.3 109.5 H433.7" stroke="#0000ff" stroke-width="2.3" fill="none"/>
<text transform="translate(441.0,114.3) scale(0.95,1)" font-size="17.2" style="font-family:'Liberation Sans',sans-serif;font-weight:normal">E</text>
<path d="M411.3 136.2 H433.7" stroke="#ff7f0e" stroke-width="2.3" fill="none"/>
<text transform="translate(441.0,141.0) scale(0.95,1)" font-size="17.2" style="font-family:'Liberation Sans',sans-serif;font-weight:normal">B</text>
<path d="M411.3 161.2 H433.7" stroke="#00ff00" stroke-width="2.3" fill="none"/>
<text transform="translate(442.2,166.0) scale(0.95,1)" font-size="17.2" style="font-family:'Liberation Sans',sans-serif;font-weight:normal;font-style:italic">ψ</text>
</g>
</svg></body></html>
